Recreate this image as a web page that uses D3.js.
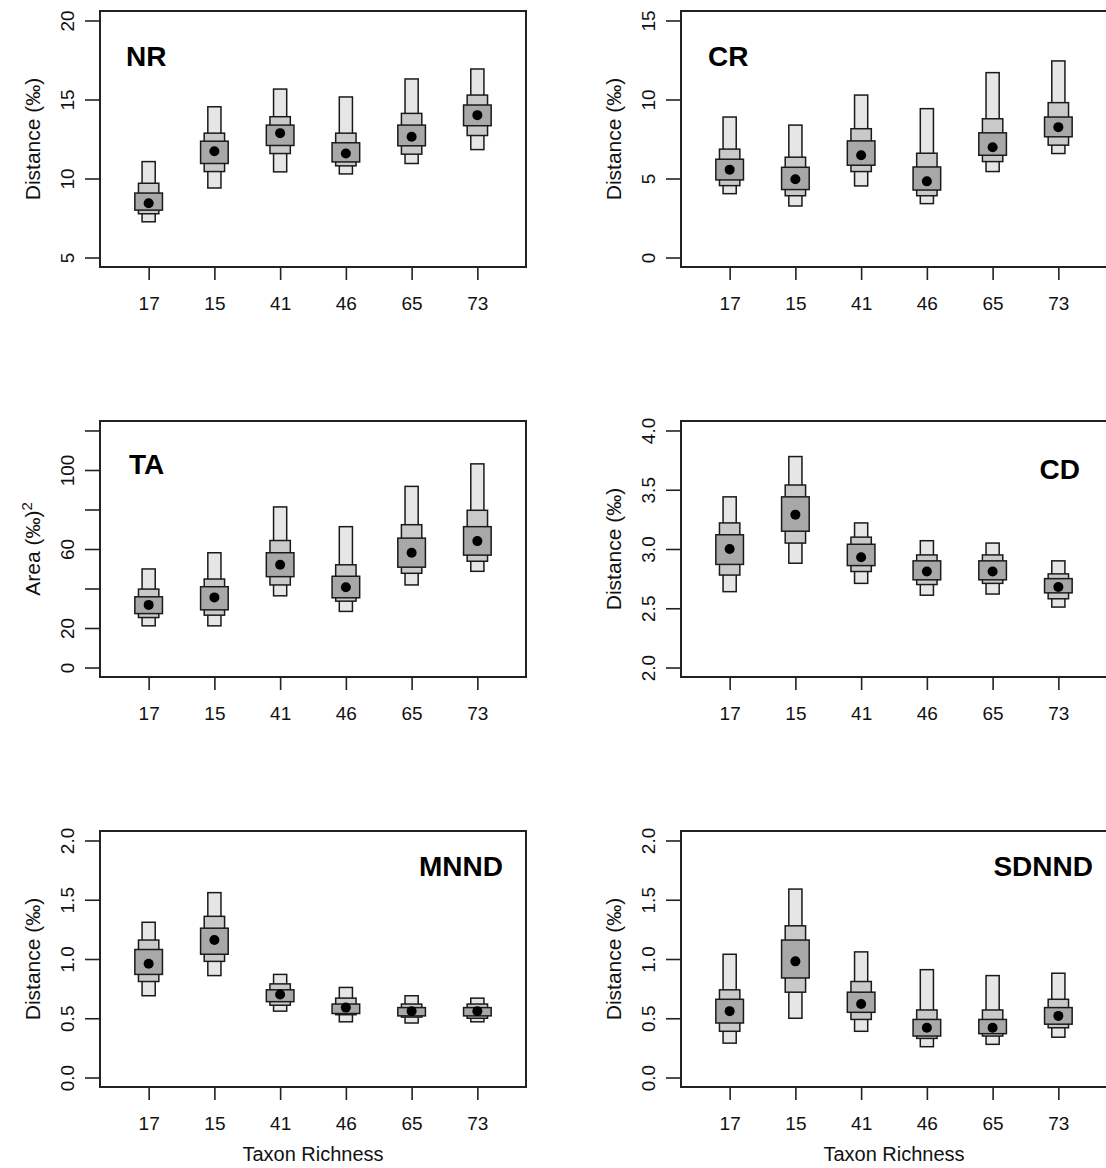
<!DOCTYPE html>
<html>
<head>
<meta charset="utf-8">
<script src="https://cdn.jsdelivr.net/npm/d3@7"></script>
<style>
  body { margin: 0; background: #fff; }
  svg { display: block; font-family: Arial, "Liberation Sans", sans-serif; }
</style>
</head>
<body>
<div class="wrapper"></div>
<script>
const width = 1106;
const height = 1168;

const richness = ["17", "15", "41", "46", "65", "73"];

// NR
const nrMode = [8.43, 11.73, 12.87, 11.58, 12.64, 14.01];
const nr95 = [[7.26, 11.07], [9.4, 14.54], [10.42, 15.66], [10.29, 15.16], [10.95, 16.3], [11.83, 16.93]];
const nr75 = [[7.77, 9.7], [10.44, 12.87], [11.58, 13.91], [10.8, 12.87], [11.54, 14.12], [12.72, 15.28]];
const nr50 = [[8.0, 9.08], [10.95, 12.36], [12.09, 13.38], [11.05, 12.26], [12.07, 13.38], [13.34, 14.65]];
const nrTicks = [5, 10, 15, 20];

// CR
const crMode = [5.56, 4.95, 6.47, 4.82, 6.98, 8.25];
const cr95 = [[4.04, 8.89], [3.26, 8.38], [4.53, 10.28], [3.41, 9.42], [5.44, 11.7], [6.58, 12.44]];
const cr75 = [[4.55, 6.86], [3.91, 6.35], [5.44, 8.15], [3.91, 6.6], [6.07, 8.78], [7.11, 9.8]];
const cr50 = [[4.91, 6.22], [4.3, 5.71], [5.84, 7.38], [4.27, 5.73], [6.47, 7.89], [7.64, 8.89]];
const crTicks = [0, 5, 10, 15];

// TA
const taMode = [31.7, 35.5, 52.0, 40.6, 58.1, 64.0];
const ta95 = [[21.1, 49.9], [21.1, 58.1], [36.3, 81.3], [28.4, 71.3], [41.8, 91.7], [48.7, 103.1]];
const ta75 = [[25.3, 39.7], [26.5, 44.8], [41.8, 64.3], [33.6, 52.0], [47.7, 72.3], [53.8, 79.6]];
const ta50 = [[27.3, 35.8], [29.2, 40.9], [46.0, 58.1], [35.3, 46.2], [50.8, 65.5], [56.9, 71.3]];
const taTicks = [0, 20, 40, 60, 80, 100, 120];
const taLabels = [0, 20, 60, 100];

// CD
const cdMode = [3.0, 3.29, 2.93, 2.81, 2.81, 2.68];
const cd95 = [[2.64, 3.44], [2.88, 3.78], [2.71, 3.22], [2.61, 3.07], [2.62, 3.05], [2.51, 2.9]];
const cd75 = [[2.78, 3.22], [3.05, 3.54], [2.81, 3.1], [2.7, 2.95], [2.71, 2.95], [2.58, 2.79]];
const cd50 = [[2.87, 3.12], [3.15, 3.44], [2.86, 3.04], [2.74, 2.9], [2.74, 2.9], [2.63, 2.75]];
const cdTicks = [2.0, 2.5, 3.0, 3.5, 4.0];

// MNND
const mnndMode = [0.96, 1.16, 0.7, 0.59, 0.56, 0.56];
const mnnd95 = [[0.69, 1.31], [0.86, 1.56], [0.56, 0.87], [0.47, 0.76], [0.46, 0.69], [0.47, 0.67]];
const mnnd75 = [[0.81, 1.16], [0.98, 1.36], [0.61, 0.79], [0.53, 0.67], [0.51, 0.62], [0.5, 0.62]];
const mnnd50 = [[0.87, 1.08], [1.04, 1.26], [0.64, 0.74], [0.54, 0.62], [0.52, 0.59], [0.52, 0.59]];
const mnndTicks = [0.0, 0.5, 1.0, 1.5, 2.0];

// SDNND
const sdnndMode = [0.56, 0.98, 0.62, 0.42, 0.42, 0.52];
const sdnnd95 = [[0.29, 1.04], [0.5, 1.59], [0.39, 1.06], [0.26, 0.91], [0.28, 0.86], [0.34, 0.88]];
const sdnnd75 = [[0.39, 0.74], [0.72, 1.28], [0.49, 0.81], [0.33, 0.57], [0.35, 0.57], [0.42, 0.66]];
const sdnnd50 = [[0.46, 0.66], [0.84, 1.16], [0.55, 0.72], [0.35, 0.49], [0.37, 0.49], [0.45, 0.59]];
const sdnndTicks = [0.0, 0.5, 1.0, 1.5, 2.0];

const panelW = 426;
const panelH = 256;
const colX = [100, 681];
const rowY = [11, 421, 831];

const panels = [
  { title: "NR", mode: nrMode, i95: nr95, i75: nr75, i50: nr50, ticks: nrTicks, labels: nrTicks, fmt: d3.format("d"),
    ylab: "dist", col: 0, row: 0, anchor: "start", tx: 26, ty: 55 },
  { title: "CR", mode: crMode, i95: cr95, i75: cr75, i50: cr50, ticks: crTicks, labels: crTicks, fmt: d3.format("d"),
    ylab: "dist", col: 1, row: 0, anchor: "start", tx: 27, ty: 55 },
  { title: "TA", mode: taMode, i95: ta95, i75: ta75, i50: ta50, ticks: taTicks, labels: taLabels, fmt: d3.format("d"),
    ylab: "area", col: 0, row: 1, anchor: "start", tx: 29, ty: 53 },
  { title: "CD", mode: cdMode, i95: cd95, i75: cd75, i50: cd50, ticks: cdTicks, labels: cdTicks, fmt: d3.format(".1f"),
    ylab: "dist", col: 1, row: 1, anchor: "end", tx: -27, ty: 58 },
  { title: "MNND", mode: mnndMode, i95: mnnd95, i75: mnnd75, i50: mnnd50, ticks: mnndTicks, labels: mnndTicks, fmt: d3.format(".1f"),
    ylab: "dist", col: 0, row: 2, anchor: "end", tx: -23, ty: 45 },
  { title: "SDNND", mode: sdnndMode, i95: sdnnd95, i75: sdnnd75, i50: sdnnd50, ticks: sdnndTicks, labels: sdnndTicks, fmt: d3.format(".1f"),
    ylab: "dist", col: 1, row: 2, anchor: "end", tx: -14, ty: 45 }
];

const fills = { i95: "#e6e6e6", i75: "#c9c9c9", i50: "#a8a8a8" };
const widths = { i95: 0.2, i75: 0.31, i50: 0.42 };

const svg = d3
  .select(".wrapper")
  .append("svg")
  .attr("width", width)
  .attr("height", height);

for (const p of panels) {
  const x0 = colX[p.col];
  const y0 = rowY[p.row];
  const g = svg.append("g").attr("transform", `translate(${x0},${y0})`);

  // R style: 4% padding on both ends
  const lo = d3.min(p.ticks);
  const hi = d3.max(p.ticks);
  const pad = (hi - lo) * 0.04;
  const y = d3.scaleLinear().domain([lo - pad, hi + pad]).range([panelH, 0]);
  const x = d3.scalePoint().domain(richness).range([0, panelW]).padding(0.74);
  const step = x.step();

  // y axis, labels rotated like R's las = 0
  const yAxis = g.append("g")
    .call(d3.axisLeft(y).tickValues(p.ticks).tickSize(15).tickSizeOuter(0)
      .tickFormat((d) => (p.labels.includes(d) ? p.fmt(d) : "")));
  yAxis.select(".domain").remove();
  yAxis.selectAll(".tick line").attr("stroke", "#222").attr("stroke-width", 1.6);
  yAxis.selectAll(".tick text")
    .attr("transform", "rotate(-90)")
    .attr("x", 0)
    .attr("y", -33)
    .attr("dy", "0.36em")
    .attr("text-anchor", "middle")
    .attr("fill", "#111")
    .style("font-size", "19px");

  const xAxis = g.append("g")
    .attr("transform", `translate(0,${panelH})`)
    .call(d3.axisBottom(x).tickSize(13).tickSizeOuter(0).tickPadding(17));
  xAxis.select(".domain").remove();
  xAxis.selectAll(".tick line").attr("stroke", "#222").attr("stroke-width", 1.6);
  xAxis.selectAll(".tick text").attr("fill", "#111").style("font-size", "19px");

  // credible interval boxes, widest interval first
  for (const key of ["i95", "i75", "i50"]) {
    g.append("g")
      .selectAll("rect")
      .data(p[key])
      .join("rect")
      .attr("x", (d, i) => x(richness[i]) - (widths[key] * step) / 2)
      .attr("width", widths[key] * step)
      .attr("y", (d) => y(d[1]))
      .attr("height", (d) => y(d[0]) - y(d[1]))
      .attr("fill", fills[key])
      .attr("stroke", "#1a1a1a")
      .attr("stroke-width", 1.5);
  }

  g.append("g")
    .selectAll("circle")
    .data(p.mode)
    .join("circle")
    .attr("cx", (d, i) => x(richness[i]))
    .attr("cy", (d) => y(d))
    .attr("r", 5)
    .attr("fill", "#000");

  g.append("rect")
    .attr("width", panelW)
    .attr("height", panelH)
    .attr("fill", "none")
    .attr("stroke", "#222")
    .attr("stroke-width", 2);

  g.append("text")
    .attr("x", p.anchor === "start" ? p.tx : panelW + p.tx)
    .attr("y", p.ty)
    .attr("text-anchor", p.anchor)
    .style("font-size", "28px")
    .style("font-weight", "bold")
    .text(p.title);

  const ylab = g.append("text")
    .attr("transform", `translate(-68,${panelH / 2}) rotate(-90)`)
    .attr("text-anchor", "middle")
    .attr("dy", "0.36em")
    .attr("fill", "#111")
    .style("font-size", "21px");
  if (p.ylab === "area") {
    ylab.append("tspan").text("Area (‰)");
    ylab.append("tspan").attr("dy", "-0.5em").style("font-size", "15px").text("2");
  } else {
    ylab.text("Distance (‰)");
  }

  if (p.row === 2) {
    g.append("text")
      .attr("x", panelW / 2)
      .attr("y", panelH + 67)
      .attr("dy", "0.36em")
      .attr("text-anchor", "middle")
      .attr("fill", "#111")
      .style("font-size", "20px")
      .text("Taxon Richness");
  }
}
</script>
</body>
</html>
